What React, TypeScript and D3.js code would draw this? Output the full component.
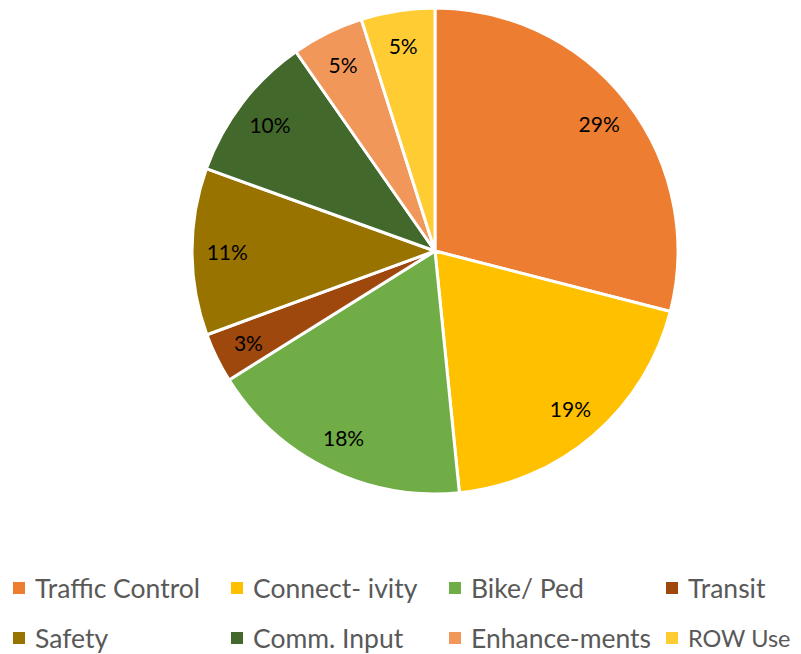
import React, { useRef, useEffect } from 'react';
import * as d3 from 'd3';

const categories = ['Traffic Control', 'Connect- ivity', 'Bike/ Ped', 'Transit', 'Safety', 'Comm. Input', 'Enhance-ments', 'ROW Use'];
const shares = [29.0, 19.4, 17.7, 3.3, 11.1, 9.8, 4.8, 4.9];
const colors = ['#ED7D31', '#FFC000', '#70AD47', '#9E480E', '#997300', '#43682B', '#F1975A', '#FFCD33'];

export default function App() {
    const svgRef = useRef<SVGSVGElement | null>(null);

    useEffect(() => {
        const svg = d3.select(svgRef.current);
        svg.selectAll('*').remove();

        const W = 801;
        const cx = 435;
        const cy = 251;
        const r = 243;
        const legendSize = 26.5;
        const data = categories.map((name, i) => ({ name, value: shares[i], color: colors[i] }));

        const pie = d3.pie<any>().value(d => d.value).sort(null);
        const arcs = pie(data);
        const arc = d3.arc<any>().innerRadius(0).outerRadius(r);
        const labelArc = d3.arc<any>().innerRadius(r * 0.855).outerRadius(r * 0.855);
        const total = d3.sum(shares);

        const g = svg.append('g').attr('transform', `translate(${cx},${cy})`);

        g.selectAll('path')
            .data(arcs)
            .join('path')
            .attr('d', arc)
            .attr('fill', d => d.data.color)
            .attr('stroke', '#ffffff')
            .attr('stroke-width', 3)
            .attr('stroke-linejoin', 'round');

        // percentage labels
        g.selectAll('text.pct')
            .data(arcs)
            .join('text')
            .attr('class', 'pct')
            .attr('transform', d => {
                const [x, y] = labelArc.centroid(d);
                return `translate(${x},${y})`;
            })
            .attr('text-anchor', 'middle')
            .attr('dominant-baseline', 'central')
            .attr('font-family', 'Lato, "Open Sans", sans-serif')
            .attr('font-size', 21)
            .attr('fill', '#000000')
            .text(d => `${Math.round((d.data.value / total) * 100)}%`);

        // legend, 4 columns x 2 rows
        const col = d3.scaleOrdinal<number, number>().domain([0, 1, 2, 3]).range([13, 231, 449, 666]);
        const row = d3.scaleOrdinal<number, number>().domain([0, 1]).range([588, 638]);

        const item = svg.selectAll('g.leg')
            .data(data)
            .join('g')
            .attr('class', 'leg')
            .attr('transform', (_, i) => `translate(${col(i % 4)},${row(Math.floor(i / 4))})`);

        item.append('rect')
            .attr('x', 0).attr('y', -6)
            .attr('width', 12).attr('height', 12)
            .attr('fill', d => d.color);

        item.append('text')
            .attr('x', 22)
            .attr('y', 0)
            .attr('dominant-baseline', 'central')
            .attr('font-family', 'Lato, "Open Sans", sans-serif')
            .attr('font-size', legendSize)
            .attr('fill', '#595959')
            .text(d => d.name)
            .each(function (_, i) {
                // shrink a label that would run past the right edge
                const el = this as SVGTextElement;
                const room = W - 10 - (col(i % 4) + 22);
                const len = el.getComputedTextLength();
                if (len > room) {
                    d3.select(el).attr('font-size', Math.floor(legendSize * room / len * 2) / 2);
                }
            });
    }, []);

    return (
        <div style={{ position: 'absolute', left: 0, top: 0 }}>
            <svg ref={svgRef} width={801} height={654} style={{ display: 'block' }} />
        </div>
    );
}
